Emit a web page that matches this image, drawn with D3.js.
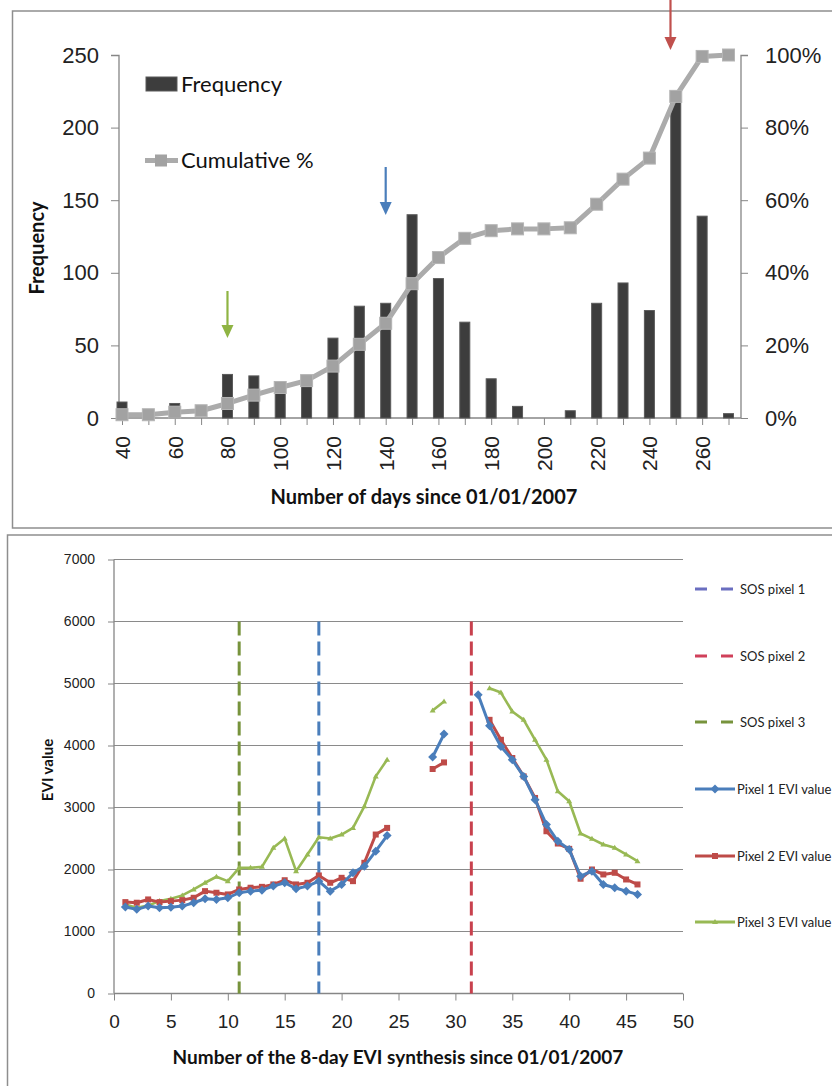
<!DOCTYPE html>
<html><head><meta charset="utf-8">
<script src="https://cdn.jsdelivr.net/npm/d3@7"></script>
<style>
body{margin:0;background:#fff;}
svg{display:block;font-family:Lato,"Liberation Sans",sans-serif;}
</style></head>
<body>
<svg id="c" width="832" height="1086"></svg>
<script>
// ---------- Top chart data ----------
const days = [40,50,60,70,80,90,100,110,120,130,140,150,160,170,180,190,200,210,220,230,240,250,260,270];
const frequency = [11,0,10,0,30,29,18,23,55,77,79,140,96,66,27,8,0,5,79,93,74,218,139,3];
const cumulativePct = [0.9,0.9,1.6,2.0,4.0,6.3,8.4,10.3,14.3,20.3,26.1,37.0,44.2,49.5,51.6,52.1,52.1,52.4,58.9,65.8,71.6,88.6,99.6,100];
const freqTicks = [0,50,100,150,200,250];
const pctTicks = [0,20,40,60,80,100];
const dayLabels = [40,60,80,100,120,140,160,180,200,220,240,260];
const arrowDays = [{day:80,color:"#8fb443"},{day:140,color:"#4a7ebb"},{day:248,color:"#c0504d"}];

// ---------- Bottom chart data ----------
const synthesis = d3.range(1,47);
const pixel1 = [1394,1357,1410,1383,1390,1410,1464,1528,1517,1544,1625,1651,1667,1732,1786,1689,1732,1812,1651,1759,1947,2054,2295,2547,null,null,null,3814,4184,null,null,4817,4318,3985,3771,3502,3127,2724,2456,2322,1893,1973,1759,1706,1651,1598];
const pixel2 = [1474,1464,1517,1474,1490,1506,1544,1651,1625,1598,1678,1706,1720,1759,1827,1759,1786,1904,1786,1866,1812,2108,2564,2671,null,null,null,3621,3727,null,null,null,4414,4092,3798,3502,3154,2617,2419,2333,1851,2000,1920,1947,1839,1759];
const pixel3 = [1437,1384,1420,1490,1528,1582,1678,1786,1883,1812,2027,2027,2043,2349,2499,1973,2242,2520,2499,2564,2671,3019,3502,3771,null,null,null,4564,4709,null,null,null,4924,4854,4548,4414,4092,3771,3261,3100,2580,2494,2403,2349,2242,2134];
const sosNames = ["SOS pixel 1","SOS pixel 2","SOS pixel 3"];
const sosValues = [18, 31.4, 11];
const pixelNames = ["Pixel 1 EVI value","Pixel 2 EVI value","Pixel 3 EVI value"];
const eviTicks = [0,1000,2000,3000,4000,5000,6000,7000];
const synthTicks = [0,5,10,15,20,25,30,35,40,45,50];

const svg = d3.select("#c");
const boxStroke = "#8e8e8e";

// ================= TOP CHART =================
svg.append("rect").attr("x",12.5).attr("y",11).attr("width",840).attr("height",517)
  .attr("fill","#fff").attr("stroke",boxStroke).attr("stroke-width",1.5);

const xT = d3.scalePoint().domain(days).range([122,728.5]);
const yF = d3.scaleLinear().domain([0,250]).range([418,55]);
const yP = d3.scaleLinear().domain([0,100]).range([418,55]);
const axisCol = "#868686";

// left axis
const gL = svg.append("g").attr("transform","translate(119,0)")
  .call(d3.axisLeft(yF).tickValues(freqTicks).tickSize(8).tickPadding(12));
gL.select(".domain").attr("stroke",axisCol).attr("stroke-width",1.3).attr("d","M-8,55.5H0V418");
gL.selectAll(".tick line").attr("stroke",axisCol);
gL.selectAll("text").attr("font-size",22).attr("fill","#222");

// right axis
const gR = svg.append("g").attr("transform","translate(741,0)")
  .call(d3.axisRight(yP).tickValues(pctTicks).tickFormat(d=>d+"%").tickSize(7).tickPadding(17));
gR.select(".domain").attr("stroke",axisCol).attr("stroke-width",1.3).attr("d","M7,55.5H0V418");
gR.selectAll(".tick line").attr("stroke",axisCol);
gR.selectAll("text").attr("font-size",22).attr("fill","#222");

// bottom axis
const gB = svg.append("g").attr("transform","translate(0,418)")
  .call(d3.axisBottom(xT).tickSize(7).tickFormat(d=>dayLabels.includes(d)?d:""));
gB.select(".domain").attr("stroke",axisCol).attr("stroke-width",1.3).attr("d","M119,0H741");
gB.selectAll(".tick line").attr("stroke",axisCol);
gB.selectAll("text").attr("font-size",21).attr("fill","#222")
  .attr("transform","translate(0,18) rotate(-90)").attr("text-anchor","end")
  .attr("dy","0.35em").attr("y",0).attr("x",0);

// bars
svg.append("g").selectAll("rect").data(days).join("rect")
  .attr("x",d=>xT(d)-5).attr("width",10)
  .attr("y",(d,i)=>yF(frequency[i])).attr("height",(d,i)=>yF(0)-yF(frequency[i]))
  .attr("fill","#3d3d3d").attr("stroke","#5a5a5a").attr("stroke-width",1);

// cumulative line
svg.append("path").datum(days)
  .attr("d",d3.line().x(d=>xT(d)).y((d,i)=>yP(cumulativePct[i])))
  .attr("fill","none").attr("stroke","#ababab").attr("stroke-width",5).attr("stroke-linejoin","round");
svg.append("g").selectAll("rect").data(days).join("rect")
  .attr("x",d=>xT(d)-6).attr("y",(d,i)=>yP(cumulativePct[i])-6)
  .attr("width",12).attr("height",12).attr("fill","#a2a2a2").attr("stroke","#b5b5b5").attr("stroke-width",1);

// titles
svg.append("text").attr("transform","translate(44,248) rotate(-90)").attr("text-anchor","middle")
  .attr("font-size",20).attr("font-weight","bold").attr("fill","#111").text("Frequency");
svg.append("text").attr("x",424).attr("y",504).attr("text-anchor","middle")
  .attr("font-size",20).attr("font-weight","bold").attr("fill","#111").text("Number of days since 01/01/2007");

// legend
svg.append("rect").attr("x",146).attr("y",77).attr("width",31).attr("height",14).attr("fill","#3d3d3d").attr("stroke","#5a5a5a");
svg.append("text").attr("x",181).attr("y",92).attr("font-size",22).attr("fill","#111").text("Frequency");
svg.append("line").attr("x1",145).attr("x2",178).attr("y1",160.5).attr("y2",160.5).attr("stroke","#ababab").attr("stroke-width",5);
svg.append("rect").attr("x",155).attr("y",154.5).attr("width",12).attr("height",12).attr("fill","#a2a2a2");
svg.append("text").attr("x",181).attr("y",168).attr("font-size",22).attr("fill","#111").text("Cumulative %");

// arrows
const arrowY = [[291,338],[167,215],[0,50]];
arrowDays.forEach((a,i)=>{
  const x = xT(days[0]) + (a.day-days[0])/10*xT.step();
  const [y1,y2] = arrowY[i];
  svg.append("line").attr("x1",x).attr("x2",x).attr("y1",y1).attr("y2",y2-10).attr("stroke",a.color).attr("stroke-width",2.2);
  svg.append("path").attr("d",`M${x-6},${y2-13}L${x+6},${y2-13}L${x},${y2}Z`).attr("fill",a.color);
});

// ================= BOTTOM CHART =================
svg.append("rect").attr("x",7.5).attr("y",535).attr("width",840).attr("height",600)
  .attr("fill","#fff").attr("stroke",boxStroke).attr("stroke-width",1.5);

const xE = d3.scaleLinear().domain([0,50]).range([114,683]);
const yE = d3.scaleLinear().domain([0,7000]).range([993.5,559.5]);

// gridlines
svg.append("g").selectAll("line").data(eviTicks.slice(1)).join("line")
  .attr("x1",114).attr("x2",683).attr("y1",d=>yE(d)).attr("y2",d=>yE(d))
  .attr("stroke","#8a8a8a").attr("stroke-width",1.2);

const gEL = svg.append("g").attr("transform","translate(114,0)")
  .call(d3.axisLeft(yE).tickValues(eviTicks).tickFormat(d3.format("d")).tickSize(6).tickPadding(13));
gEL.select(".domain").attr("stroke",axisCol).attr("stroke-width",1.3).attr("d","M0,559.5V993.5");
gEL.selectAll(".tick line").attr("stroke",axisCol);
gEL.selectAll("text").attr("font-size",14).attr("fill","#222");

const gEB = svg.append("g").attr("transform","translate(0,993.5)")
  .call(d3.axisBottom(xE).tickValues(synthTicks).tickSize(7).tickPadding(14));
gEB.select(".domain").attr("stroke",axisCol).attr("stroke-width",1.3).attr("d","M114,0H683");
gEB.selectAll(".tick line").attr("stroke",axisCol);
gEB.selectAll("text").attr("font-size",19).attr("fill","#222");

svg.append("text").attr("transform","translate(53,770) rotate(-90)").attr("text-anchor","middle")
  .attr("font-size",15).attr("font-weight","bold").attr("fill","#111").text("EVI value");
svg.append("text").attr("x",398).attr("y",1064).attr("text-anchor","middle")
  .attr("font-size",19).attr("font-weight","bold").attr("fill","#111").text("Number of the 8-day EVI synthesis since 01/01/2007");

// SOS dashed lines
const sosColors = ["#4a7ebb","#c8414e","#77933c"];
const sosLegendColors = ["#6a6ec0","#d0405a","#77933c"];
svg.append("g").selectAll("line").data(sosValues).join("line")
  .attr("x1",d=>xE(d)).attr("x2",d=>xE(d)).attr("y1",yE(6000)).attr("y2",yE(0))
  .attr("stroke",(d,i)=>sosColors[i]).attr("stroke-width",3).attr("stroke-dasharray","14,6");

// pixel lines
const pixColors = ["#4a7ebb","#be4b48","#98b954"];
const pixData = [pixel1,pixel2,pixel3];
const lineGen = d3.line().defined(d=>d.v!=null).x(d=>xE(d.x)).y(d=>yE(d.v));
[2,1,0].forEach(k=>{
  const pts = synthesis.map((x,i)=>({x, v:pixData[k][i]}));
  svg.append("path").datum(pts).attr("d",lineGen).attr("fill","none")
    .attr("stroke",pixColors[k]).attr("stroke-width",k===2?2.6:3).attr("stroke-linejoin","round");
  const g = svg.append("g").attr("fill",pixColors[k]);
  const valid = pts.filter(d=>d.v!=null);
  if(k===0){
    g.selectAll("path").data(valid).join("path")
      .attr("d",d=>{const x=xE(d.x),y=yE(d.v);return `M${x},${y-4.5}L${x+4.5},${y}L${x},${y+4.5}L${x-4.5},${y}Z`;});
  } else if(k===1){
    g.selectAll("rect").data(valid).join("rect")
      .attr("x",d=>xE(d.x)-3).attr("y",d=>yE(d.v)-3).attr("width",6).attr("height",6);
  } else {
    g.selectAll("path").data(valid).join("path")
      .attr("d",d=>{const x=xE(d.x),y=yE(d.v);return `M${x},${y-3}L${x+3},${y+2}L${x-3},${y+2}Z`;});
  }
});

// legend
const legY = [589,656,722,789,856,922];
sosNames.forEach((n,i)=>{
  svg.append("line").attr("x1",695).attr("x2",733).attr("y1",legY[i]).attr("y2",legY[i])
    .attr("stroke",sosLegendColors[i]).attr("stroke-width",3).attr("stroke-dasharray","12,14");
  svg.append("text").attr("x",740).attr("y",legY[i]+4.5).attr("font-size",13).attr("fill","#222").text(n);
});
pixelNames.forEach((n,i)=>{
  const y = legY[i+3];
  svg.append("line").attr("x1",695).attr("x2",735).attr("y1",y).attr("y2",y)
    .attr("stroke",pixColors[i]).attr("stroke-width",3);
  const cx=715;
  if(i===0) svg.append("path").attr("d",`M${cx},${y-4.5}L${cx+4.5},${y}L${cx},${y+4.5}L${cx-4.5},${y}Z`).attr("fill",pixColors[i]);
  if(i===1) svg.append("rect").attr("x",cx-3).attr("y",y-3).attr("width",6).attr("height",6).attr("fill",pixColors[i]);
  if(i===2) svg.append("path").attr("d",`M${cx},${y-3}L${cx+3},${y+2}L${cx-3},${y+2}Z`).attr("fill",pixColors[i]);
  svg.append("text").attr("x",737).attr("y",y+4.5).attr("font-size",13).attr("fill","#222").text(n);
});
</script>
</body></html>
